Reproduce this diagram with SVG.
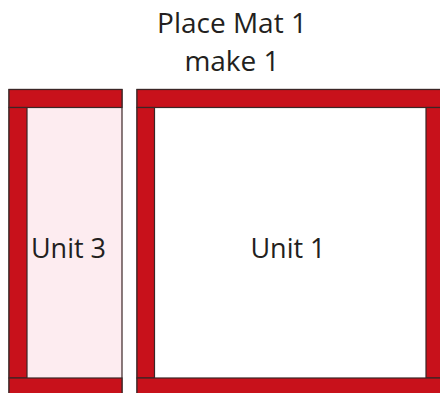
<svg xmlns="http://www.w3.org/2000/svg" width="440" height="393" viewBox="0 0 440 393">
<style>
.red{fill:#c8111b;stroke:#3b2626;stroke-width:1.2}
.t{font-family:"Open Sans","Liberation Sans",sans-serif;fill:#231f20;text-anchor:middle}
</style>
<rect width="440" height="393" fill="#ffffff"/>
<g id="title">
<text class="t" x="232" y="33" font-size="28">Place Mat 1</text>
<text class="t" x="232" y="71" font-size="28">make 1</text>
</g>
<g id="unit3">
<rect x="9" y="89.5" width="113" height="305" fill="#fdecf0" stroke="#3b2626" stroke-width="1.2"/>
<rect class="red" x="9" y="89.5" width="113" height="18"/>
<rect class="red" x="9" y="107.5" width="18" height="270.5"/>
<rect class="red" x="9" y="378" width="113" height="17"/>
<text class="t" x="68.5" y="258" font-size="27">Unit 3</text>
</g>
<g id="unit1">
<rect x="137" y="89.5" width="305" height="305" fill="#ffffff" stroke="#3b2626" stroke-width="1.2"/>
<rect class="red" x="137" y="89.5" width="305" height="18"/>
<rect class="red" x="137" y="107.5" width="17.5" height="270.5"/>
<rect class="red" x="426" y="107.5" width="16" height="270.5"/>
<rect class="red" x="137" y="378" width="305" height="17"/>
<text class="t" x="288" y="258" font-size="27">Unit 1</text>
</g>
<g id="connectors"></g>
</svg>
